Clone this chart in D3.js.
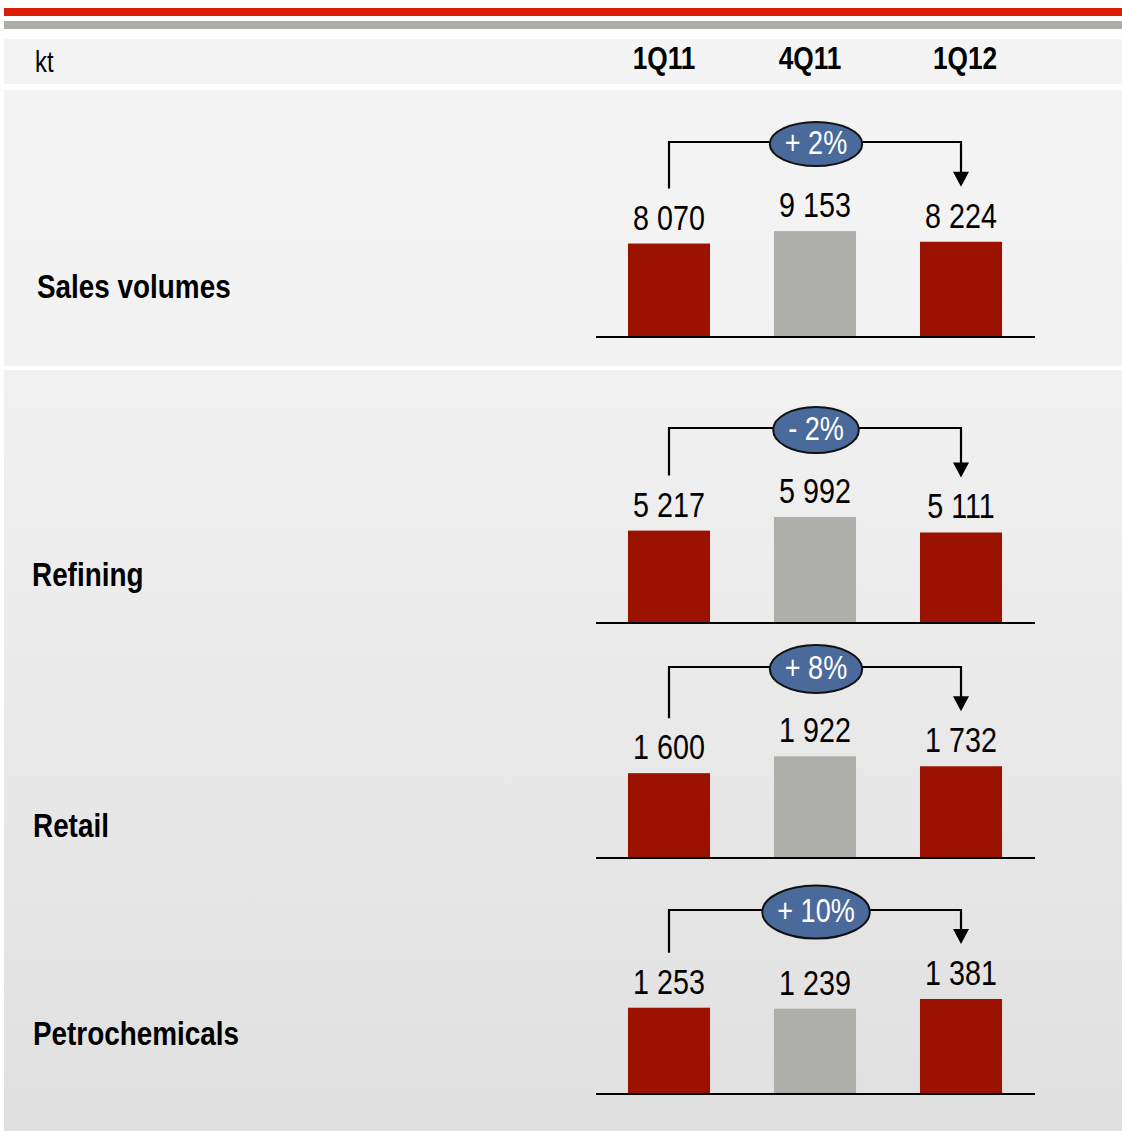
<!DOCTYPE html>
<html>
<head>
<meta charset="utf-8">
<script src="https://cdn.jsdelivr.net/npm/d3@7"></script>
<style>
  html, body { margin: 0; padding: 0; background: #ffffff; }
  svg { display: block; }
</style>
</head>
<body>
<svg id="chart" width="1122" height="1131"></svg>
<script>
// ---------------- DATA ----------------
const unitLabel = "kt";
const periods = ["1Q11", "4Q11", "1Q12"];
const segments = ["Sales volumes", "Refining", "Retail", "Petrochemicals"];
const salesVolumes = [8070, 9153, 8224];
const refining = [5217, 5992, 5111];
const retail = [1600, 1922, 1732];
const petrochemicals = [1253, 1239, 1381];
const changeLabels = ["+ 2%", "- 2%", "+ 8%", "+ 10%"];
const valueLabels = [
  ["8 070", "9 153", "8 224"],
  ["5 217", "5 992", "5 111"],
  ["1 600", "1 922", "1 732"],
  ["1 253", "1 239", "1 381"]
];

// ---------------- LAYOUT ----------------
const W = 1122, H = 1131;
const seriesList = [salesVolumes, refining, retail, petrochemicals];
const baselines = [336, 622, 857, 1093];
const domainMax = [9600, 6280, 2100, 1616];
const plotHeight = 110;
const segLabelY = [298, 586, 837, 1045];
const segLabelX = [37, 32, 33, 33];
const ellipseRy = [22, 23, 24, 26.5];
const barColors = ["#9b1300", "#aeaeaa", "#9b1300"];

const svg = d3.select("#chart");

// font detection: prefer a real narrow font; otherwise condense Liberation Sans
function hasFont(name) {
  const c = document.createElement("canvas").getContext("2d");
  const s = "mmmmwwwwlllii0123456789";
  c.font = "40px monospace";
  const a = c.measureText(s).width;
  c.font = "40px '" + name + "', monospace";
  const b = c.measureText(s).width;
  return Math.abs(a - b) > 0.5;
}
const narrowAvail = hasFont("Liberation Sans Narrow");
const FONT = narrowAvail ? "'Liberation Sans Narrow', 'Arial Narrow', sans-serif" : "'Liberation Sans', Arial, sans-serif";
const SX = narrowAvail ? 1 : 0.82;

function txt(g, x, y, s, o) {
  const t = g.append("text")
    .attr("transform", `translate(${x},${y}) scale(${SX},1)`)
    .attr("font-family", FONT)
    .attr("font-size", o.size)
    .attr("font-weight", o.weight || "normal")
    .attr("fill", o.fill || "#000")
    .attr("text-anchor", o.anchor || "start")
    .text(s);
  return t;
}

// ---------------- BACKGROUND ----------------
const defs = svg.append("defs");
const grad = defs.append("linearGradient").attr("id", "lowerGrad")
  .attr("x1", 0).attr("y1", 0).attr("x2", 0).attr("y2", 1);
grad.append("stop").attr("offset", "0%").attr("stop-color", "#f1f1f1");
grad.append("stop").attr("offset", "100%").attr("stop-color", "#e0e0e0");
const grad1 = defs.append("linearGradient").attr("id", "upperGrad")
  .attr("x1", 0).attr("y1", 0).attr("x2", 0).attr("y2", 1);
grad1.append("stop").attr("offset", "0%").attr("stop-color", "#f4f4f4");
grad1.append("stop").attr("offset", "100%").attr("stop-color", "#f2f2f2");

svg.append("rect").attr("x", 0).attr("y", 0).attr("width", W).attr("height", H).attr("fill", "#ffffff");
svg.append("rect").attr("x", 4).attr("y", 8).attr("width", W - 4).attr("height", 8).attr("fill", "#d81e05");
svg.append("rect").attr("x", 4).attr("y", 21).attr("width", W - 4).attr("height", 8).attr("fill", "#adada9");
svg.append("rect").attr("x", 4).attr("y", 39).attr("width", W - 4).attr("height", 45).attr("fill", "#f4f4f4");
svg.append("rect").attr("x", 4).attr("y", 90).attr("width", W - 4).attr("height", 276).attr("fill", "url(#upperGrad)");
svg.append("rect").attr("x", 4).attr("y", 370).attr("width", W - 4).attr("height", H - 370).attr("fill", "url(#lowerGrad)");

// ---------------- SCALES ----------------
const x = d3.scaleBand().domain(periods).range([596, 1034])
  .paddingInner(0.438).paddingOuter(0.219);
const cx = p => x(p) + x.bandwidth() / 2;

// ---------------- HEADER ----------------
const header = svg.append("g");
txt(header, 35, 72, unitLabel, { size: 29 });
const headerDx = [-5, -5, 4];
periods.forEach((p, i) => {
  txt(header, cx(p) + headerDx[i], 69, p, { size: 32, weight: "bold", anchor: "middle" });
});

// ---------------- PANELS ----------------
segments.forEach((seg, si) => {
  const vals = seriesList[si];
  const base = baselines[si];
  const y = d3.scaleLinear().domain([0, domainMax[si]]).range([base, base - plotHeight]);
  const g = svg.append("g");

  txt(g, segLabelX[si], segLabelY[si], seg, { size: 34, weight: "bold" });

  g.selectAll("rect.bar").data(vals).join("rect")
    .attr("class", "bar")
    .attr("x", (d, i) => x(periods[i]))
    .attr("y", d => y(d))
    .attr("width", x.bandwidth())
    .attr("height", d => base - y(d))
    .attr("fill", (d, i) => barColors[i]);

  g.append("line").attr("x1", 596).attr("x2", 1035)
    .attr("y1", base + 1).attr("y2", base + 1)
    .attr("stroke", "#000").attr("stroke-width", 2);

  const labelGap = 14, capH = 25;
  vals.forEach((d, i) => {
    txt(g, cx(periods[i]), y(d) - labelGap, valueLabels[si][i], { size: 35, anchor: "middle" });
  });

  // bracket
  const labelTops = vals.map(d => y(d) - labelGap - capH);
  const bracketY = Math.round(d3.min(labelTops) - 50);
  const x0 = cx(periods[0]), x2 = cx(periods[2]);
  const leftBottom = labelTops[0] - 16;
  const tipY = labelTops[2] - 16;
  const arrowH = 15, arrowW = 16;

  g.append("path")
    .attr("d", `M${x0},${leftBottom} L${x0},${bracketY} L${x2},${bracketY} L${x2},${tipY - arrowH + 1}`)
    .attr("fill", "none").attr("stroke", "#000").attr("stroke-width", 2.2);
  g.append("path")
    .attr("d", `M${x2 - arrowW / 2},${tipY - arrowH} L${x2 + arrowW / 2},${tipY - arrowH} L${x2},${tipY} Z`)
    .attr("fill", "#000");

  // ellipse with change
  const ecx = cx(periods[1]) + 1;
  const ell = g.append("ellipse").attr("cx", ecx).attr("cy", bracketY + 2)
    .attr("ry", ellipseRy[si])
    .attr("fill", "#4a6a9b").attr("stroke", "#111").attr("stroke-width", 2);
  const t = txt(g, ecx, bracketY + 12, changeLabels[si], { size: 33, anchor: "middle", fill: "#ffffff" });
  const len = t.node().getComputedTextLength() * SX;
  ell.attr("rx", len / 2 + 15);
});
</script>
</body>
</html>
